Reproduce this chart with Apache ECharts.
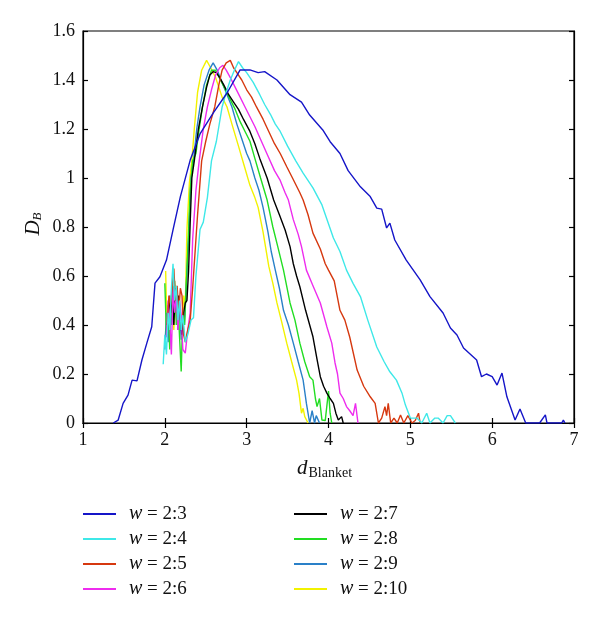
<!DOCTYPE html>
<html>
<head>
<meta charset="utf-8">
<script src="https://cdn.jsdelivr.net/npm/echarts@6/dist/echarts.min.js"></script>
<style>html,body{margin:0;padding:0;background:#fff}#c{width:600px;height:620px}</style>
</head>
<body>
<div id="c"></div>
<script>
// ---- data ----
const seriesNames = ['2:3', '2:4', '2:5', '2:6', '2:7', '2:8', '2:9', '2:10'];
const seriesColors = ['#1515c8', '#3ee8e8', '#d6380f', '#ee2cee', '#000000', '#22dd22', '#2a80c8', '#f2f200'];

const x23 = [1.37,1.43,1.49,1.55,1.60,1.66,1.72,1.78,1.84,1.88,1.94,2.02,2.10,2.19,2.31,2.43,2.59,2.76,2.92,3.04,3.14,3.22,3.37,3.53,3.67,3.77,3.93,4.02,4.14,4.24,4.39,4.51,4.59,4.65,4.71,4.75,4.81,4.95,5.12,5.24,5.40,5.49,5.57,5.65,5.81,5.87,5.93,6.00,6.06,6.12,6.18,6.28,6.34,6.41,6.58,6.65,6.67,6.85,6.87,6.89];
const y23 = [0,0.012,0.08,0.114,0.175,0.172,0.257,0.326,0.393,0.571,0.597,0.665,0.788,0.924,1.073,1.18,1.265,1.347,1.441,1.441,1.43,1.434,1.40,1.34,1.31,1.257,1.196,1.148,1.10,1.03,0.964,0.924,0.877,0.873,0.796,0.816,0.747,0.665,0.584,0.516,0.449,0.388,0.359,0.306,0.257,0.189,0.2,0.189,0.155,0.204,0.107,0.012,0.057,0,0,0.033,0,0,0.012,0];

const x24 = [1.98,2.00,2.02,2.04,2.06,2.08,2.10,2.12,2.14,2.16,2.18,2.20,2.22,2.25,2.28,2.32,2.35,2.38,2.43,2.47,2.52,2.57,2.63,2.70,2.75,2.80,2.85,2.90,2.95,3.00,3.08,3.16,3.22,3.29,3.35,3.41,3.50,3.60,3.69,3.81,3.92,4.06,4.14,4.22,4.30,4.39,4.48,4.59,4.68,4.75,4.83,4.90,4.94,5.00,5.08,5.14,5.20,5.24,5.30,5.34,5.40,5.45,5.49,5.55];
const y24 = [0.24,0.36,0.28,0.45,0.38,0.55,0.65,0.50,0.56,0.42,0.50,0.38,0.44,0.33,0.36,0.42,0.43,0.60,0.79,0.82,0.92,1.07,1.15,1.29,1.35,1.40,1.44,1.475,1.45,1.43,1.39,1.34,1.30,1.26,1.22,1.19,1.13,1.07,1.02,0.96,0.89,0.755,0.70,0.624,0.57,0.516,0.42,0.31,0.25,0.209,0.175,0.12,0.073,0.02,0.02,0.0,0.04,0.0,0.02,0.02,0.0,0.03,0.03,0];

const x25 = [2.03,2.05,2.07,2.09,2.11,2.13,2.15,2.17,2.19,2.21,2.23,2.25,2.28,2.31,2.34,2.37,2.40,2.45,2.50,2.55,2.61,2.66,2.70,2.75,2.80,2.84,2.88,2.94,3.00,3.06,3.12,3.20,3.27,3.34,3.41,3.49,3.56,3.65,3.69,3.75,3.81,3.90,3.96,4.00,4.07,4.14,4.20,4.26,4.35,4.43,4.51,4.57,4.61,4.65,4.69,4.71,4.73,4.76,4.80,4.84,4.88,4.92,4.97,5.02,5.06,5.10,5.12];
const y25 = [0.40,0.52,0.48,0.55,0.63,0.50,0.56,0.45,0.55,0.52,0.36,0.33,0.38,0.42,0.55,0.70,0.85,1.07,1.15,1.22,1.29,1.38,1.44,1.47,1.48,1.45,1.43,1.40,1.36,1.33,1.29,1.24,1.19,1.14,1.10,1.046,1.0,0.94,0.91,0.85,0.775,0.71,0.65,0.624,0.58,0.46,0.42,0.35,0.216,0.15,0.107,0.08,0.0,0.02,0.067,0.03,0.08,0.0,0.02,0.0,0.033,0.0,0.03,0.0,0.01,0.04,0];

const x26 = [2.02,2.04,2.06,2.08,2.10,2.12,2.14,2.16,2.18,2.20,2.22,2.25,2.28,2.31,2.34,2.38,2.42,2.47,2.52,2.57,2.62,2.67,2.71,2.75,2.80,2.86,2.92,2.98,3.04,3.10,3.18,3.26,3.34,3.41,3.47,3.51,3.57,3.63,3.67,3.73,3.81,3.90,3.98,4.04,4.08,4.11,4.14,4.18,4.22,4.26,4.30,4.33,4.36];
const y26 = [0.35,0.50,0.42,0.28,0.55,0.45,0.52,0.38,0.50,0.44,0.30,0.285,0.38,0.45,0.75,0.95,1.07,1.2,1.29,1.36,1.42,1.45,1.46,1.44,1.41,1.37,1.33,1.29,1.25,1.21,1.15,1.09,1.03,0.99,0.94,0.91,0.83,0.77,0.72,0.624,0.56,0.49,0.393,0.326,0.245,0.20,0.122,0.10,0.067,0.05,0.03,0.08,0];

const x27 = [2.03,2.05,2.07,2.09,2.11,2.13,2.15,2.17,2.19,2.21,2.23,2.25,2.27,2.29,2.31,2.33,2.36,2.41,2.46,2.51,2.55,2.59,2.63,2.67,2.72,2.78,2.84,2.90,2.96,3.04,3.10,3.16,3.25,3.33,3.40,3.47,3.53,3.57,3.61,3.65,3.72,3.81,3.86,3.90,3.94,3.98,4.02,4.06,4.09,4.12,4.16,4.18];
const y27 = [0.38,0.50,0.45,0.52,0.40,0.55,0.48,0.52,0.44,0.36,0.45,0.49,0.50,0.62,0.82,1.0,1.07,1.2,1.29,1.37,1.42,1.434,1.43,1.41,1.38,1.34,1.31,1.28,1.24,1.19,1.14,1.08,1.0,0.91,0.85,0.788,0.72,0.65,0.60,0.556,0.46,0.352,0.26,0.189,0.15,0.122,0.10,0.08,0.04,0.012,0.026,0];

const x28 = [2.00,2.02,2.04,2.06,2.08,2.10,2.12,2.14,2.16,2.18,2.20,2.22,2.24,2.26,2.28,2.31,2.34,2.38,2.42,2.46,2.51,2.57,2.62,2.68,2.74,2.80,2.86,2.92,2.98,3.04,3.10,3.17,3.25,3.32,3.38,3.45,3.53,3.59,3.65,3.71,3.77,3.81,3.84,3.86,3.89,3.92,3.96,4.00,4.02,4.04];
const y28 = [0.57,0.36,0.48,0.30,0.52,0.42,0.58,0.40,0.50,0.35,0.21,0.45,0.40,0.55,0.70,0.95,1.07,1.1,1.2,1.29,1.38,1.44,1.44,1.40,1.36,1.32,1.28,1.23,1.19,1.15,1.08,1.0,0.91,0.80,0.72,0.624,0.49,0.42,0.326,0.25,0.189,0.175,0.10,0.067,0.10,0.012,0.01,0.13,0.04,0];

const x29 = [2.00,2.02,2.04,2.06,2.08,2.10,2.12,2.14,2.16,2.18,2.20,2.22,2.24,2.26,2.29,2.32,2.35,2.39,2.43,2.48,2.54,2.59,2.64,2.70,2.76,2.82,2.88,2.94,3.00,3.04,3.10,3.15,3.20,3.26,3.30,3.35,3.40,3.45,3.51,3.57,3.63,3.69,3.73,3.77,3.80,3.83,3.85,3.87,3.89];
const y29 = [0.30,0.45,0.33,0.52,0.40,0.56,0.45,0.50,0.38,0.47,0.34,0.44,0.40,0.55,0.75,1.0,1.07,1.2,1.29,1.38,1.44,1.47,1.44,1.39,1.34,1.29,1.22,1.16,1.10,1.07,1.0,0.95,0.88,0.78,0.70,0.624,0.55,0.46,0.40,0.326,0.25,0.175,0.08,0.0,0.05,0.0,0.03,0.026,0];

const x210 = [2.01,2.03,2.05,2.07,2.09,2.11,2.13,2.15,2.17,2.19,2.21,2.23,2.25,2.27,2.30,2.33,2.36,2.40,2.45,2.51,2.56,2.62,2.70,2.76,2.82,2.90,2.97,3.04,3.10,3.14,3.20,3.27,3.32,3.37,3.43,3.49,3.55,3.61,3.64,3.67,3.69,3.71,3.73,3.75];
const y210 = [0.62,0.35,0.50,0.40,0.55,0.38,0.52,0.42,0.50,0.45,0.38,0.52,0.48,0.79,0.98,1.07,1.2,1.35,1.44,1.48,1.45,1.41,1.33,1.29,1.22,1.13,1.05,0.97,0.92,0.88,0.78,0.64,0.57,0.49,0.41,0.326,0.25,0.175,0.12,0.04,0.06,0.026,0.02,0];

const xLists = [x23, x24, x25, x26, x27, x28, x29, x210];
const yLists = [y23, y24, y25, y26, y27, y28, y29, y210];

const xTicks = [1, 2, 3, 4, 5, 6, 7];
const yTicks = [0, 0.2, 0.4, 0.6, 0.8, 1, 1.2, 1.4, 1.6];

// ---- chart ----
const FONT = 'Liberation Serif';
const chart = echarts.init(document.getElementById('c'), null, {renderer: 'canvas'});

const series = seriesNames.map((n, i) => ({
  name: 'w = ' + n,
  type: 'line',
  xAxisIndex: 0, yAxisIndex: 0,
  showSymbol: false, symbol: 'none',
  color: seriesColors[i],
  lineStyle: {width: 1.4, color: seriesColors[i]},
  data: xLists[i].map((x, k) => [x, yLists[i][k]]),
  z: 10 - i,
  animation: false
}));

const legendCommon = {
  orient: 'vertical',
  icon: 'rect',
  itemWidth: 33,
  itemHeight: 2,
  itemGap: 5,
  textStyle: {
    fontFamily: FONT, fontSize: 19, color: '#111', lineHeight: 20, padding: [0, 0, 0, 8],
    rich: {i: {fontFamily: FONT, fontStyle: 'italic', fontSize: 20, color: '#111'}, t: {fontFamily: FONT, fontSize: 19, color: '#111'}}
  },
  formatter: (name) => '{i|w}{t|' + name.slice(1) + '}',
  selectedMode: false
};

const option = {
  backgroundColor: '#fff',
  animation: false,
  grid: {left: 83, right: 26, top: 31, bottom: 197, show: true, borderColor: '#000', borderWidth: 1.2},
  legend: [
    Object.assign({left: 78, top: 499, data: series.slice(0, 4).map(s => s.name)}, legendCommon),
    Object.assign({left: 289, top: 499, data: series.slice(4).map(s => s.name)}, legendCommon)
  ],
  xAxis: [
    {type: 'value', min: xTicks[0], max: xTicks[xTicks.length - 1], interval: 1, position: 'bottom',
     axisLine: {show: true, lineStyle: {color: '#000', width: 1.2}},
     axisTick: {show: true, inside: true, length: 5, lineStyle: {color: '#000', width: 1.2}},
     axisLabel: {color: '#111', fontFamily: FONT, fontSize: 18, margin: 8},
     splitLine: {show: false}},
    {type: 'value', min: xTicks[0], max: xTicks[xTicks.length - 1], interval: 1, position: 'top',
     axisLine: {show: true, lineStyle: {color: '#000', width: 1.2}},
     axisTick: {show: true, inside: true, length: 5, lineStyle: {color: '#000', width: 1.2}},
     axisLabel: {show: false}, splitLine: {show: false}}
  ],
  yAxis: [
    {type: 'value', min: yTicks[0], max: yTicks[yTicks.length - 1], interval: 0.2, position: 'left',
     axisLine: {show: true, lineStyle: {color: '#000', width: 1.2}},
     axisTick: {show: true, inside: true, length: 5, lineStyle: {color: '#000', width: 1.2}},
     axisLabel: {color: '#111', fontFamily: FONT, fontSize: 18, margin: 8},
     splitLine: {show: false}},
    {type: 'value', min: yTicks[0], max: yTicks[yTicks.length - 1], interval: 0.2, position: 'right',
     axisLine: {show: true, lineStyle: {color: '#000', width: 1.2}},
     axisTick: {show: true, inside: true, length: 5, lineStyle: {color: '#000', width: 1.2}},
     axisLabel: {show: false}, splitLine: {show: false}}
  ],
  graphic: [
    {type: 'text', x: 33, y: 224, rotation: Math.PI / 2, style: {
      text: '{a|D}{b|B}', align: 'center', verticalAlign: 'middle', rich: {
        a: {fontFamily: FONT, fontStyle: 'italic', fontSize: 21, fill: '#111'},
        b: {fontFamily: FONT, fontStyle: 'italic', fontSize: 13, fill: '#111', padding: [10, 0, 0, 0]}
      }}},
    {type: 'text', left: 297, top: 458, style: {
      text: '{a|d}{b|Blanket}', rich: {
        a: {fontFamily: FONT, fontStyle: 'italic', fontSize: 21, fill: '#111'},
        b: {fontFamily: FONT, fontSize: 14, fill: '#111', padding: [10, 0, 0, 1]}
      }}}
  ],
  series: series
};
chart.setOption(option);
</script>
</body>
</html>
